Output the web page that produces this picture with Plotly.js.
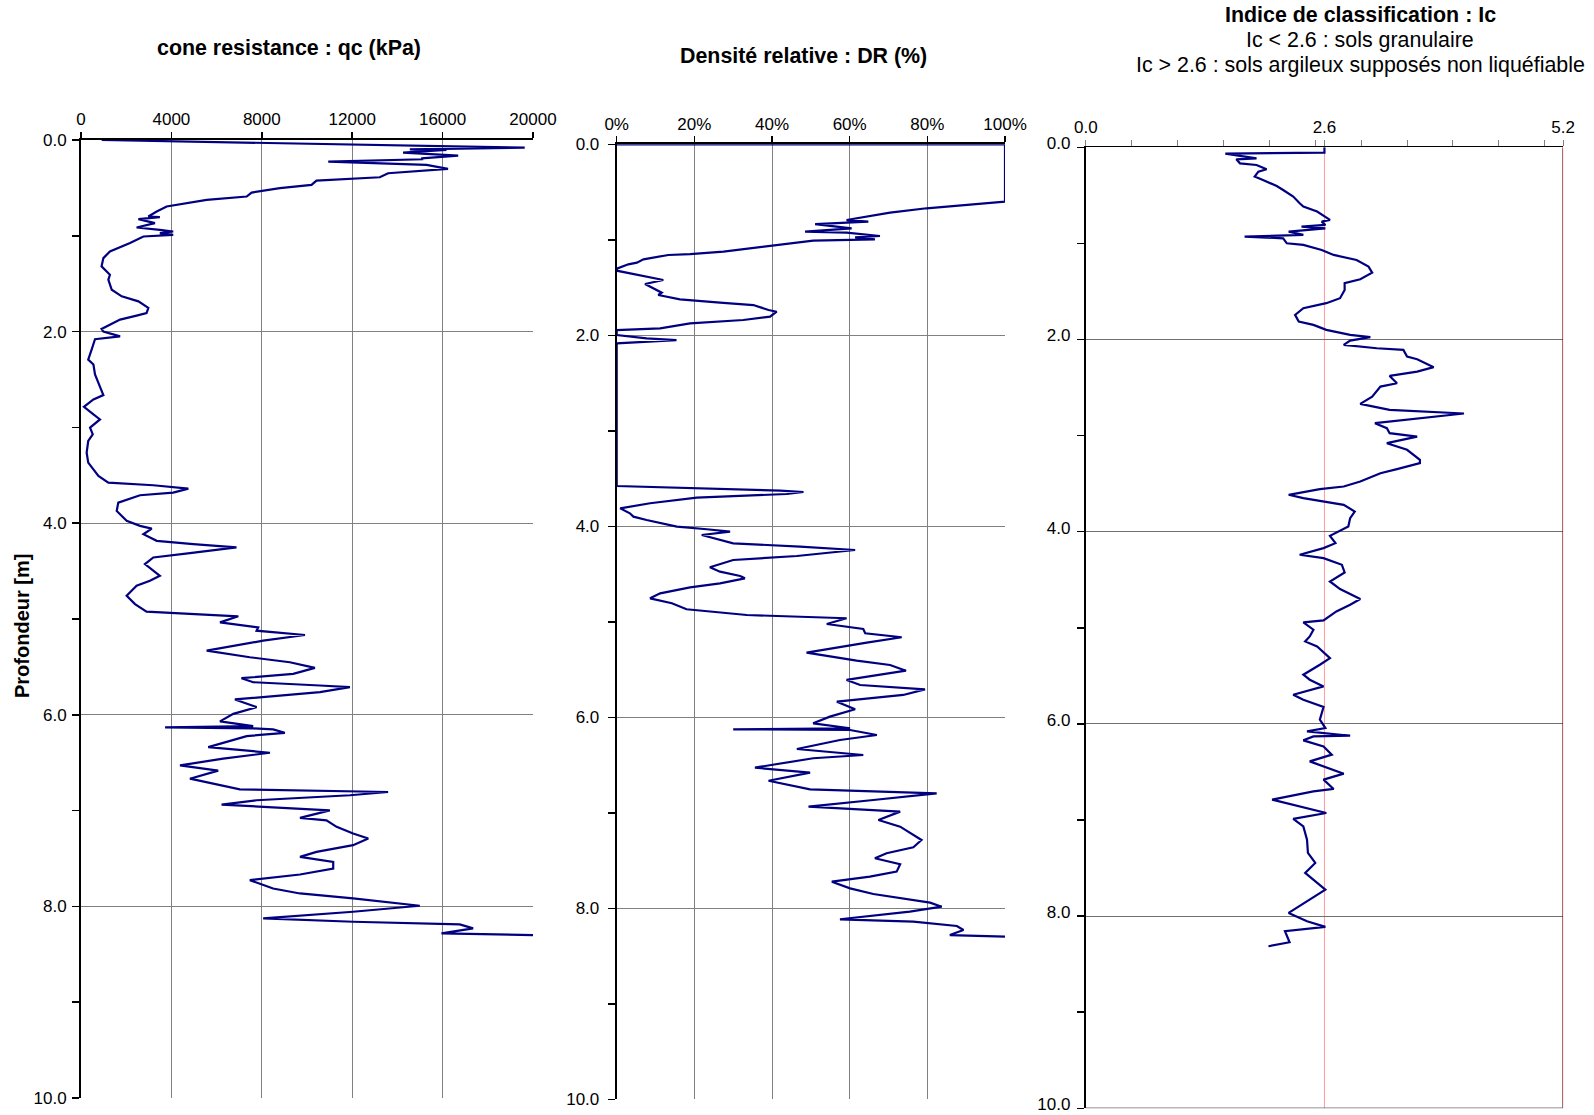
<!DOCTYPE html>
<html>
<head>
<meta charset="utf-8">
<script src="https://cdn.plot.ly/plotly-3.0.1.min.js"></script>
<style>
html,body{margin:0;padding:0;background:#fff;}
#chart{width:1594px;height:1115px;}
</style>
</head>
<body>
<div id="chart"></div>
<script>
// ---- cone resistance qc (kPa) vs depth (m) ----
const qcDepth = [0.00,0.080,0.097,0.104,0.132,0.163,0.191,0.201,0.226,0.260,0.302,0.347,0.389,0.406,0.424,0.469,0.503,0.549,0.590,0.625,0.694,0.747,0.799,0.806,0.826,0.868,0.913,0.938,0.955,0.972,0.990,1.007,1.076,1.163,1.233,1.319,1.406,1.458,1.563,1.632,1.684,1.753,1.806,1.833,1.875,1.972,2.00,2.05,2.08,
  2.188,2.292,2.344,2.448,2.535,2.663,2.708,2.785,2.865,2.917,3.003,3.073,3.142,3.264,3.368,3.507,3.576,3.604,3.639,3.681,3.708,3.785,3.872,3.976,4.028,4.056,4.115,4.184,4.219,4.253,4.313,4.358,4.427,4.549,4.601,4.653,4.757,4.844,4.924,4.948,4.972,5.035,5.087,
  5.122,5.167,5.226,5.330,5.399,5.451,5.510,5.573,5.618,5.660,5.694,5.712,5.764,5.816,5.840,5.920,5.990,6.069,6.118,6.132,6.142,6.153,6.188,6.222,6.337,6.396,6.458,6.528,6.583,6.667,6.736,6.778,6.806,6.840,6.892,6.938,6.979,6.997,7.076,7.101,7.170,7.240,7.292,
  7.361,7.431,7.483,7.535,7.604,7.667,7.726,7.813,7.865,7.917,7.993,8.056,8.125,8.160,8.188,8.229,8.281,8.299];
const qcValue = [914,19634,14550,16170,14250,16690,15060,15140,10940,15290,16240,13590,13220,11970,10420,10200,8800,7550,7330,5560,3790,3350,2980,3490,2540,3270,2460,3490,4080,3490,4080,2760,2170,1280,990,910,1280,1210,1360,1800,2540,2980,2900,2460,1730,910,990,1730,620,
  470,320,550,620,770,990,550,130,550,840,400,520,320,250,320,770,1210,3200,4750,4080,2610,1650,1580,2020,2610,3130,2760,3350,4970,6880,4820,3200,2830,3490,3050,2460,2020,2390,2900,4970,6960,6150,7840,
  7770,9910,8060,5560,7470,9240,10350,9390,7100,7620,10570,11900,10570,7920,6810,7770,6740,6150,7620,3720,7620,8500,9020,7330,5630,8360,6290,4380,6070,4820,6150,7030,13590,11900,7770,6220,9540,11010,9690,10860,11310,12040,12710,
  12040,10420,9690,11160,11160,9690,7470,8500,9690,12040,14990,12040,8060,12040,16760,17350,15950,20000];

// ---- relative density DR (%) vs depth (m) ----
const drDepth = [0.000,0.002,0.600,0.636,0.670,0.716,0.758,0.793,0.810,0.835,0.880,0.908,0.915,0.925,0.960,0.974,0.995,1.009,1.061,1.082,1.124,1.149,1.159,1.205,1.239,1.257,1.299,1.323,1.421,1.463,1.526,1.554,1.578,1.623,1.658,1.683,1.735,1.753,1.805,1.840,1.875,1.927,1.945,1.997,2.032,2.050,2.084,
  3.578,3.627,3.641,3.662,3.700,3.759,3.812,3.864,3.899,3.934,4.004,4.031,4.056,4.091,4.136,4.178,4.213,4.248,4.311,4.353,4.429,4.475,4.520,4.545,4.597,4.639,4.702,4.754,4.806,4.869,4.929,4.963,5.023,5.075,
  5.120,5.162,5.219,5.323,5.407,5.452,5.512,5.609,5.662,5.707,5.766,5.836,5.916,5.993,6.063,6.115,6.126,6.133,6.185,6.238,6.332,6.395,6.429,6.527,6.580,6.664,6.754,6.796,6.866,6.936,6.988,7.075,7.145,7.285,
  7.361,7.424,7.476,7.539,7.616,7.669,7.721,7.791,7.850,7.941,7.983,8.035,8.115,8.140,8.185,8.227,8.280,8.297];
const drValue = [0,100,100,89.3,79.8,70.4,64.4,59.2,64.8,51.1,60.5,52.4,48.5,59.2,67.8,61.4,66.5,50.6,39.9,36.9,27.5,18.9,13.3,6.9,5.2,3.0,0.2,0,12.0,7.3,10.3,11.6,10.7,16.3,26.6,35.2,39.1,41.2,39.5,32.6,18.9,11.2,0,0,7.7,15.4,0,
  0,42.1,48.1,43.8,20.6,8.6,0.9,3.4,4.3,7.7,15.5,23.2,29.2,21.9,25.8,30.0,47.2,61.4,46.4,30.0,24.0,26.6,31.8,33.0,26.6,18.9,11.2,8.6,14.2,18.0,33.5,59.2,54.1,63.5,
  64.0,73.4,64.4,48.9,61.8,70.4,74.5,59.2,62.7,79.4,73.8,56.7,61.4,54.9,50.6,60.1,30.0,60.1,67.0,57.5,46.4,63.5,50.6,35.6,49.8,39.1,49.8,82.4,66.1,49.4,73.0,67.4,73.0,78.5,
  76.4,69.5,66.5,73.0,72.1,65.2,55.4,60.1,66.1,80.7,83.7,75.5,57.5,76.4,87.6,89.3,85.8,100];

// ---- classification index Ic vs depth (m) ----
const icDepth = [0.000,0.056,0.065,0.115,0.125,0.167,0.184,0.229,0.253,0.305,0.340,0.403,0.444,0.513,0.583,0.617,0.669,0.715,0.756,0.773,0.808,0.825,0.843,0.877,0.912,0.929,0.947,0.999,1.016,1.068,1.120,1.172,1.242,1.304,1.373,1.414,1.484,1.570,1.622,1.674,1.744,1.813,1.848,1.900,1.952,1.976,2.011,2.056,2.091,2.108,2.178,2.205,2.288,2.334,2.379,2.455,2.490,2.594,2.670,2.732,2.770,2.871,2.923,2.975,3.010,3.079,
  3.148,3.252,3.287,3.349,3.391,3.478,3.530,3.557,3.616,3.651,3.720,3.790,3.859,3.946,4.043,4.119,4.171,4.240,4.275,4.344,4.424,4.518,4.597,4.701,4.760,4.830,4.923,4.944,5.020,5.090,5.142,5.194,5.315,5.384,5.488,5.540,5.610,5.696,5.748,5.824,5.956,6.043,
  6.078,6.123,6.130,6.171,6.234,6.320,6.390,6.518,6.580,6.677,6.702,6.788,6.927,6.989,7.066,7.204,7.343,7.447,7.551,7.724,7.828,7.967,8.054,8.112,8.158,8.272,8.314];
const icValue = [2.60,2.60,1.52,1.86,1.64,1.68,1.86,1.97,1.88,1.84,1.93,2.08,2.15,2.26,2.33,2.37,2.52,2.59,2.66,2.57,2.61,2.35,2.61,2.21,2.37,1.73,2.15,2.19,2.37,2.57,2.70,2.95,3.08,3.12,2.99,2.82,2.82,2.77,2.62,2.37,2.28,2.32,2.48,2.62,2.88,3.10,2.88,2.81,3.17,3.46,3.50,3.61,3.79,3.61,3.31,3.39,3.21,3.12,2.99,3.31,4.12,3.15,3.28,3.31,3.61,3.28,
  3.50,3.64,3.64,3.39,3.21,2.99,2.81,2.55,2.21,2.37,2.81,2.93,2.88,2.86,2.66,2.72,2.59,2.33,2.59,2.79,2.82,2.66,2.77,2.99,2.88,2.73,2.59,2.37,2.48,2.44,2.39,2.52,2.66,2.55,2.37,2.44,2.59,2.26,2.37,2.59,2.55,2.61,
  2.41,2.88,2.48,2.37,2.59,2.68,2.44,2.81,2.59,2.70,2.48,2.03,2.62,2.26,2.37,2.41,2.42,2.50,2.39,2.61,2.44,2.21,2.41,2.61,2.17,2.22,1.99];

// ---- axis labels / titles ----
const qcTicks = [0,4000,8000,12000,16000,20000];
const qcTickText = ['0','4000','8000','12000','16000','20000'];
const drTicks = [0,20,40,60,80,100];
const drTickText = ['0%','20%','40%','60%','80%','100%'];
const icTicks = [0,2.6,5.2];
const icTickText = ['0.0','2.6','5.2'];
const icMinorTicks = [0.5,1,1.5,2,2.5,3,3.5,4,4.5,5];
const depthTicks = [0,2,4,6,8,10];
const depthTickText = ['0.0','2.0','4.0','6.0','8.0','10.0'];
const depthMinorTicks = [1,3,5,7,9];
const icLimit = 2.6;
const icMax = 5.2;
const titleQc = 'cone resistance : qc (kPa)';
const titleDr = 'Densité relative : DR (%)';
const titleIc = ['Indice de classification : Ic','Ic &lt; 2.6 : sols granulaire','Ic &gt; 2.6 : sols argileux supposés non liquéfiable'];
const titleDepth = 'Profondeur [m]';

const W = 1594, H = 1115;
const FONT = 'Liberation Sans, Arial, Helvetica, sans-serif';
const px = v => v / W;
const py = v => 1 - v / H;
const LINE = {color:'#000080', width:2.2};
const TITLE_SIZE = 21.4;

const traces = [
  {x: qcValue, y: qcDepth, xaxis:'x', yaxis:'y', type:'scatter', mode:'lines', line:LINE, cliponaxis:false},
  {x: drValue, y: drDepth, xaxis:'x2', yaxis:'y2', type:'scatter', mode:'lines', line:LINE, cliponaxis:false},
  {x: icValue, y: icDepth, xaxis:'x3', yaxis:'y3', type:'scatter', mode:'lines', line:LINE, cliponaxis:false}
];

const tickFont = {family: FONT, size: 17, color:'#000'};
function yAx(domainTop, domainBottom, anchor, grid, standoff, shift){
  return {
    domain:[py(domainBottom), py(domainTop)], anchor: anchor, range:[10,0], autorange:false,
    tickmode:'array', tickvals: depthTicks, ticktext: depthTickText,
    ticks:'outside', ticklen:7, tickwidth:1.5, tickcolor:'#000',
    minor:{ticks:'outside', tickmode:'array', tickvals: depthMinorTicks, ticklen:7, tickwidth:1.5, tickcolor:'#000', showgrid:false},
    showgrid:true, gridcolor: grid, gridwidth:1,
    showline:true, linecolor:'#000', linewidth:2, zeroline:false,
    tickfont: tickFont, ticklabelstandoff: standoff, ticklabelshift: shift, ticklabeloverflow:'allow', fixedrange:true
  };
}
function xAxTop(domL, domR, anchor, range, vals, text){
  return {domain:[px(domL), px(domR)], anchor:anchor, side:'top', range:range, autorange:false,
    tickmode:'array', tickvals: vals, ticktext: text, ticks:'outside', ticklen:6, tickcolor:'#000', tickwidth:1.5,
    showgrid:true, gridcolor:'#808080', gridwidth:1, showline:true, linecolor:'#000', linewidth:2, zeroline:false,
    tickfont: tickFont, ticklabelstandoff:0, ticklabeloverflow:'allow', fixedrange:true};
}

const layout = {
  width: W, height: H,
  margin:{l:0,r:0,t:0,b:0,pad:0},
  paper_bgcolor:'#fff', plot_bgcolor:'#fff',
  showlegend:false,
  font:{family: FONT, color:'#000'},
  xaxis: xAxTop(81, 533, 'y', [0,20000], qcTicks, qcTickText),
  yaxis: yAx(140, 1098, 'x', '#808080', 2, 0),
  xaxis2: xAxTop(616.7, 1005, 'y2', [0,100], drTicks, drTickText),
  yaxis2: yAx(144.3, 1099.3, 'x2', '#808080', 5, 0),
  xaxis3:{domain:[px(1085.8), px(1563.1)], anchor:'y3', side:'top', range:[0,icMax], autorange:false,
    tickmode:'array', tickvals: icTicks, ticktext: icTickText, ticks:'outside', ticklen:6, tickcolor:'#808080', tickwidth:1,
    minor:{ticks:'outside', tickmode:'array', tickvals: icMinorTicks, ticklen:6, tickcolor:'#808080', tickwidth:1, showgrid:false},
    showgrid:false, showline:true, linecolor:'#000', linewidth:1.5, zeroline:false,
    tickfont: tickFont, ticklabelstandoff:0, ticklabeloverflow:'allow', fixedrange:true},
  yaxis3: yAx(147.3, 1108.3, 'x3', '#707070', 3, 4),
  shapes:[
    {type:'line', xref:'x3', yref:'y3', x0:icLimit, x1:icLimit, y0:0, y1:10, line:{color:'#ff9a9a', width:1}, layer:'below'},
    {type:'line', xref:'x3', yref:'y3', x0:icMax, x1:icMax, y0:0, y1:10, line:{color:'#8b1a1a', width:1.5}, layer:'above'},
    {type:'line', xref:'x3', yref:'y3', x0:0, x1:icMax, y0:10, y1:10, line:{color:'#707070', width:1.5}, layer:'above'}
  ],
  annotations:[
    {text:'<b>'+titleQc+'</b>', xref:'paper', yref:'paper', x:px(289), y:py(48), xanchor:'center', yanchor:'middle', showarrow:false, font:{family:FONT, size:TITLE_SIZE, color:'#000'}},
    {text:'<b>'+titleDr+'</b>', xref:'paper', yref:'paper', x:px(804), y:py(56), xanchor:'center', yanchor:'middle', showarrow:false, font:{family:FONT, size:TITLE_SIZE, color:'#000'}},
    {text:'<b>'+titleIc[0]+'</b>', xref:'paper', yref:'paper', x:px(1360), y:py(15.5), xanchor:'center', yanchor:'middle', showarrow:false, font:{family:FONT, size:TITLE_SIZE, color:'#000'}},
    {text:titleIc[1], xref:'paper', yref:'paper', x:px(1360), y:py(40), xanchor:'center', yanchor:'middle', showarrow:false, font:{family:FONT, size:TITLE_SIZE, color:'#000'}},
    {text:titleIc[2], xref:'paper', yref:'paper', x:px(1360), y:py(64.5), xanchor:'center', yanchor:'middle', showarrow:false, font:{family:FONT, size:TITLE_SIZE, color:'#000'}},
    {text:'<b>'+titleDepth+'</b>', xref:'paper', yref:'paper', x:px(22), y:py(626), xanchor:'center', yanchor:'middle', textangle:-90, showarrow:false, font:{family:FONT, size:20, color:'#000'}}
  ]
};

Plotly.newPlot('chart', traces, layout, {displayModeBar:false, staticPlot:true});
</script>
</body>
</html>
